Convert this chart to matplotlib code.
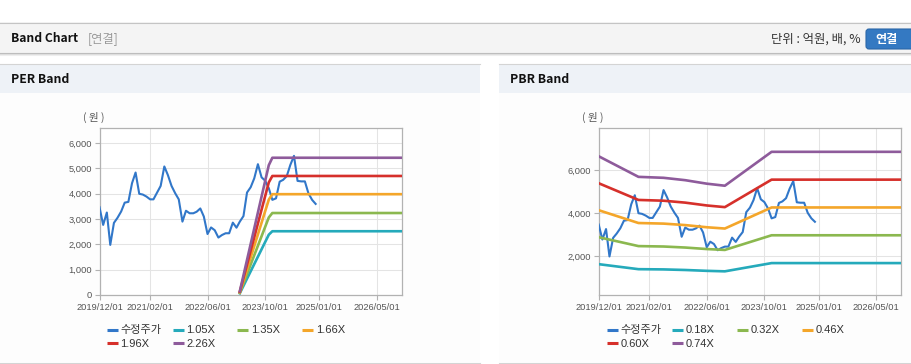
import matplotlib
matplotlib.use('Agg')
import matplotlib.pyplot as plt
import matplotlib.dates as mdates
from matplotlib.patches import Rectangle, FancyBboxPatch
import pandas as pd

W, H = 912, 364
KR = ['Noto Sans CJK KR', 'DejaVu Sans']
LAT = ['Liberation Sans', 'Noto Sans CJK KR', 'DejaVu Sans']

# ---------------- data ----------------
price_name = '수정주가'
price_start = '2019-12-01'
price_values = [3470, 2770, 3260, 1980, 2850, 3050, 3300, 3650, 3680, 4420,
                4840, 4000, 3970, 3890, 3780, 3780, 4050, 4310, 5080, 4740,
                4310, 4020, 3780, 2900, 3330, 3230, 3230, 3290, 3420, 3100,
                2410, 2670, 2560, 2270, 2370, 2440, 2440, 2860, 2660, 2900,
                3120, 4050, 4260, 4610, 5170, 4650, 4520, 4220, 3760, 3820,
                4480, 4550, 4700, 5140, 5500, 4510, 4490, 4490, 4020, 3760, 3600]

eps_dates = ['2023-03-01', '2023-11-01', '2023-12-01', '2026-12-01']
eps_values = [65, 2270, 2400, 2400]
per_multiples = [1.05, 1.35, 1.66, 1.96, 2.26]
per_labels = ['1.05X', '1.35X', '1.66X', '1.96X', '2.26X']

bps_dates = ['2019-12-01', '2020-11-01', '2021-06-01', '2021-12-01',
             '2022-06-01', '2022-11-01', '2023-12-01', '2026-12-01']
bps_values = [9000, 7700, 7640, 7490, 7270, 7140, 9280, 9280]
pbr_multiples = [0.18, 0.32, 0.46, 0.60, 0.74]
pbr_labels = ['0.18X', '0.32X', '0.46X', '0.60X', '0.74X']

xtick_dates = ['2019-12-01', '2021-02-01', '2022-06-01', '2023-10-01',
               '2025-01-01', '2026-05-01']
xtick_labels = ['2019/12/01', '2021/02/01', '2022/06/01', '2023/10/01',
                '2025/01/01', '2026/05/01']
x_range = ['2019-12-01', '2026-12-01']

per_yticks = [0, 1000, 2000, 3000, 4000, 5000, 6000]
per_ylim = (0, 6600)
pbr_yticks = [2000, 4000, 6000]
pbr_ylim = (180, 7980)

price_color = '#3177c9'
band_colors = ['#25aabb', '#8bb84f', '#f4a62a', '#d6302b', '#8e5b9b']

# ---------------- figure ----------------
fig = plt.figure(figsize=(W / 100, H / 100), dpi=100)
fig.patch.set_facecolor('white')
bg = fig.add_axes([0, 0, 1, 1])
bg.set_xlim(0, W)
bg.set_ylim(H, 0)
bg.axis('off')

# page header
bg.add_patch(Rectangle((0, 22), W, 30.5, fc='#f4f4f4', ec='none'))
bg.plot([0, W], [22.5, 22.5], color='#c4c4c4', lw=0.8)
bg.plot([0, W], [52.5, 52.5], color='#bcbcbc', lw=0.8)
bg.plot([0, W], [53.5, 53.5], color='#dedede', lw=0.8)
bg.plot([0, W], [54.5, 54.5], color='#eeeeee', lw=0.8)
bg.text(11.5, 38.5, 'Band Chart', fontsize=8.7, fontweight='bold', family=KR,
        va='center', ha='left', color='#111111')
bg.text(88, 38.5, '[연결]', fontsize=8.8, family=KR, va='center', ha='left',
        color='#9a9a9a')
bg.text(860.5, 39.5, '단위 : 억원, 배, %', fontsize=8.9, family=KR, va='center',
        ha='right', color='#333333')
bg.add_patch(FancyBboxPatch((866, 29), 52, 20,
                            boxstyle='round,pad=0,rounding_size=3',
                            fc='#3479c2', ec='#2b67a8', lw=0.8))
bg.text(887, 39, '연결', fontsize=8.7, fontweight='bold', family=KR,
        va='center', ha='center', color='white')

# panels
panels = [(0, 480, 'PER Band'), (499, W, 'PBR Band')]
for x0, x1, title in panels:
    bg.add_patch(Rectangle((x0, 63.5), x1 - x0, 29, fc='#eef2f7', ec='none'))
    bg.plot([x0, x1], [63.5, 63.5], color='#d4d4d4', lw=0.8)
    bg.add_patch(Rectangle((x0, 92.5), x1 - x0, 269.5, fc='#fdfdfd', ec='none'))
    bg.plot([x0, x1], [362.5, 362.5], color='#d4d4d4', lw=0.8)
    bg.text(x0 + 11.5, 79.5, title, fontsize=8.8, fontweight='bold', family=KR,
            va='center', ha='left', color='#111111')

price_dates = pd.date_range(price_start, periods=len(price_values), freq='MS')
eps_d = pd.to_datetime(eps_dates)
bps_d = pd.to_datetime(bps_dates)


def style(ax, yticks, ylim):
    ax.set_facecolor('white')
    for s in ax.spines.values():
        s.set_color('#b2b2b2')
        s.set_linewidth(0.9)
    ax.grid(True, color='#e4e4e4', lw=0.75)
    ax.set_axisbelow(True)
    ax.set_xlim(pd.to_datetime(x_range[0]), pd.to_datetime(x_range[1]))
    ax.set_xticks(pd.to_datetime(xtick_dates))
    ax.set_xticklabels(xtick_labels)
    ax.set_ylim(*ylim)
    ax.set_yticks(yticks)
    ax.set_yticklabels([f'{v:,}' for v in yticks])
    ax.tick_params(length=3.5, width=0.8, color='#b2b2b2', labelsize=6.7,
                   labelcolor='#555555', pad=2)
    for lab in ax.get_xticklabels() + ax.get_yticklabels():
        lab.set_family(LAT)


def draw(ax, base_d, base_v, mults):
    ax.plot(price_dates, price_values, color=price_color, lw=1.5, zorder=3,
            solid_joinstyle='round')
    for m, c in zip(mults, band_colors):
        ax.plot(base_d, [m * v for v in base_v], color=c, lw=1.9, zorder=4,
                solid_joinstyle='round', clip_on=True)


ax1 = fig.add_axes([99.5 / W, 1 - 295 / H, 302.5 / W, 167 / H])
style(ax1, per_yticks, per_ylim)
draw(ax1, eps_d, eps_values, per_multiples)

ax2 = fig.add_axes([598.7 / W, 1 - 295 / H, 302.6 / W, 167 / H])
style(ax2, pbr_yticks, pbr_ylim)
draw(ax2, bps_d, bps_values, pbr_multiples)

# unit labels
bg.text(94, 117.5, '( 원 )', fontsize=7.6, family=KR, va='center', ha='center',
        color='#555555')
bg.text(593, 117.5, '( 원 )', fontsize=7.6, family=KR, va='center', ha='center',
        color='#555555')

# legends (manual grid layout like the reference)
col_off = [0, 65.7, 130.3, 195.3]
row_y = [330, 343.3]
for lx, labels in [(107, per_labels), (606.7, pbr_labels)]:
    names = [price_name] + labels
    colors = [price_color] + band_colors
    for i, (n, c) in enumerate(zip(names, colors)):
        x = lx + col_off[i % 4]
        y = row_y[i // 4]
        bg.plot([x, x + 11], [y, y], color=c, lw=2.2, solid_capstyle='butt')
        bg.text(x + 13.5, y + 0.3, n, fontsize=8.0, family=LAT, va='center',
                ha='left', color='#333333')

fig.savefig('out.png', dpi=100, facecolor='white')
